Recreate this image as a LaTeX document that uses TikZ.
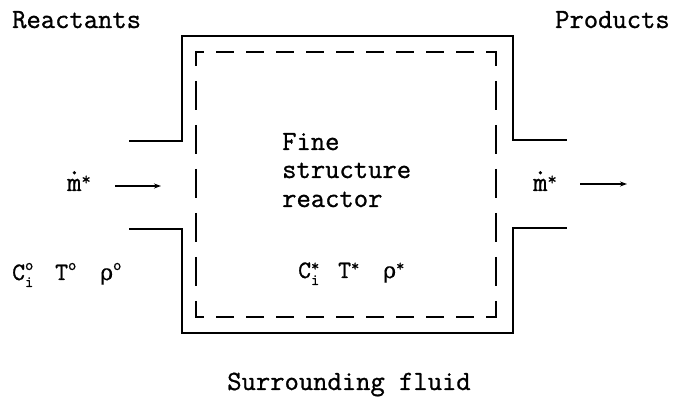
\documentclass[tikz,border=0pt]{standalone}
\usepackage{fontspec}
\setmonofont{Latin Modern Mono}[RawFeature={embolden=1}]
\newfontfamily\grk{DejaVu Serif}[RawFeature={embolden=0.5}]
\usetikzlibrary{arrows.meta}
\newcommand\mdotstar{\ooalign{m\cr\hidewidth\raisebox{0.6em}{.}\hidewidth\cr}\raisebox{6pt}{\fontsize{18}{18}\selectfont *}}
\newcommand\symss[3]{#1\rlap{\raisebox{10pt}{\fontsize{16}{16}\selectfont #2}}\raisebox{-7pt}{\fontsize{16}{16}\selectfont #3}}
\newcommand\symsup[2]{#1\raisebox{10pt}{\fontsize{16}{16}\selectfont #2}}
\newcommand\rh{{\grk\fontsize{22}{24}\selectfont ρ}}
\begin{document}
\begin{tikzpicture}[x=1pt,y=-1pt,
  wall/.style={line width=1.8pt, line join=miter},
  hdash/.style={line width=2pt, dash pattern=on 18pt off 12pt, dash phase=9pt},
  vdash/.style={line width=2pt, dash pattern=on 29pt off 15pt, dash phase=14pt},
  flow/.style={line width=1.2pt, -{Stealth[length=7pt,width=5pt]}},
  lbl/.style={inner sep=0pt, font=\ttfamily\fontsize{27.8}{32}\selectfont},
  sym/.style={inner sep=0pt, font=\ttfamily\fontsize{25}{28}\selectfont}]
\useasboundingbox (0,0) rectangle (673,403);
% reactor walls with inlet and outlet pipes
\draw[wall] (129,141) -- (182,141) -- (182,36) -- (513,36) -- (513,140) -- (567,140);
\draw[wall] (129,229) -- (182,229) -- (182,333) -- (513,333) -- (513,228) -- (567,228);
% dashed control volume
\draw[hdash] (195,52) -- (497,52);
\draw[hdash] (195,317) -- (497,317);
\draw[vdash] (196,51) -- (196,318);
\draw[vdash] (496,51) -- (496,318);
% labels
\node[lbl, anchor=base west] (reactants) at (12,28) {Reactants};
\node[lbl, anchor=base west] (products) at (555,28) {Products};
\node[lbl, anchor=base] (surr) at (349,390) {Surrounding fluid};
\node[lbl, anchor=base west] (fine) at (282,150) {Fine};
\node[lbl, anchor=base west] (structure) at (282,178) {structure};
\node[lbl, anchor=base west] (reactor) at (282,207) {reactor};
% mass flows
\node[lbl, anchor=base west] (minL) at (67,191) {\mdotstar};
\node[lbl, anchor=base west] (mout) at (533,191) {\mdotstar};
\coordinate (inA) at (115,186);
\coordinate (inB) at (161,186);
\coordinate (outA) at (580,184);
\coordinate (outB) at (627,184);
\draw[flow] (inA) -- (inB);
\draw[flow] (outA) -- (outB);
% inlet state
\node[sym, anchor=base west] (ci0) at (12,280) {\symss{C}{o}{i}};
\node[sym, anchor=base west] (T0) at (55,280) {\symsup{T}{o}};
\node[sym, anchor=base west] (rho0) at (100,280) {\symsup{\rh}{o}};
% reactor state
\node[sym, anchor=base west] (cis) at (298,278) {\symss{C}{\raisebox{-3pt}{*}}{i}};
\node[sym, anchor=base west] (Ts) at (338,278) {\symsup{T}{\raisebox{-3pt}{*}}};
\node[sym, anchor=base west] (rhos) at (383,278) {\symsup{\rh}{\raisebox{-3pt}{*}}};
\end{tikzpicture}
\end{document}
